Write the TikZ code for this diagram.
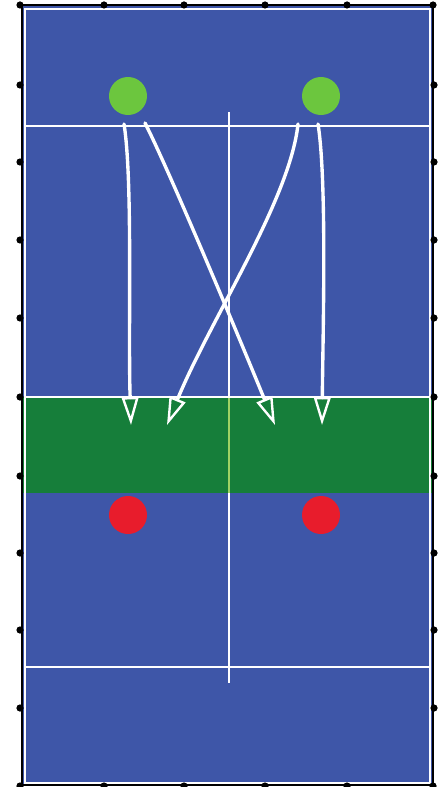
\documentclass[tikz,border=0pt]{standalone}
\usepackage{xcolor}
\usepackage{tikz}
\usetikzlibrary{arrows.meta, calc}

\definecolor{courtblue}{RGB}{62,86,168}
\definecolor{bandgreen}{RGB}{22,126,58}
\definecolor{ballgreen}{RGB}{108,198,62}
\definecolor{ballred}{RGB}{232,28,44}
\definecolor{linelime}{RGB}{160,210,100}

\begin{document}
\begin{tikzpicture}[x=0.025cm, y=-0.025cm,
    courtline/.style={white, line width=1.6pt},
    tickdot/.style={circle, fill=black, inner sep=0pt, minimum size=0.18cm},
    player/.style={circle, inner sep=0pt, minimum size=0.95cm},
    shot/.style={white, line width=2.4pt, line cap=round,
        -{Triangle[open, length=0.7cm, width=0.42cm, line width=1.7pt]}}]
        \useasboundingbox (0,0) rectangle (440,787);

        % court
        \fill[courtblue] (22,5) rectangle (433,785);
        \fill[bandgreen] (22,397) rectangle (433,493);
        \draw[courtline] (25,9) rectangle (430,783);
        \draw[courtline] (25,126) -- (430,126);
        \draw[courtline] (25,397) -- (430,397);
        \draw[courtline] (25,667) -- (430,667);
        \draw[courtline] (229,112) -- (229,683);
        \draw[linelime, line width=1.6pt] (229,398) -- (229,493);

        % frame and ticks
        \draw[black, line width=2pt] (22,5) rectangle (433,785);
        \foreach \x in {20,104,184,265,347,433} {
            \node[tickdot] at (\x,5) {};
            \node[tickdot] at (\x,786) {};
        }
        \foreach \y in {85,162,240,318,397,476,553,630,708} {
            \node[tickdot] at (20,\y) {};
            \node[tickdot] at (434,\y) {};
        }

        % players
        \node[player, fill=ballgreen] (gl) at (128,96) {};
        \node[player, fill=ballgreen] (gr) at (321,96) {};
        \node[player, fill=ballred] (rl) at (128,515) {};
        \node[player, fill=ballred] (rr) at (321,515) {};

        % shots
        \coordinate (s1) at (124,124);
        \coordinate (s2) at (145,123);
        \coordinate (s3) at (298,124);
        \coordinate (s4) at (318,124);
        \coordinate (e1) at (131,425);
        \coordinate (e2) at (275,425);
        \coordinate (e3) at (167,425);
        \coordinate (e4) at (322,425);
        \draw[shot] (s1) .. controls (133,180) and (128,330) .. (e1);
        \draw[shot] (s2) .. controls (168,168) and (236,330) .. (e2);
        \draw[shot] (s3) .. controls (290,200) and (210,320) .. (e3);
        \draw[shot] (s4) .. controls (327,180) and (323,330) .. (e4);
    \end{tikzpicture}
\end{document}
